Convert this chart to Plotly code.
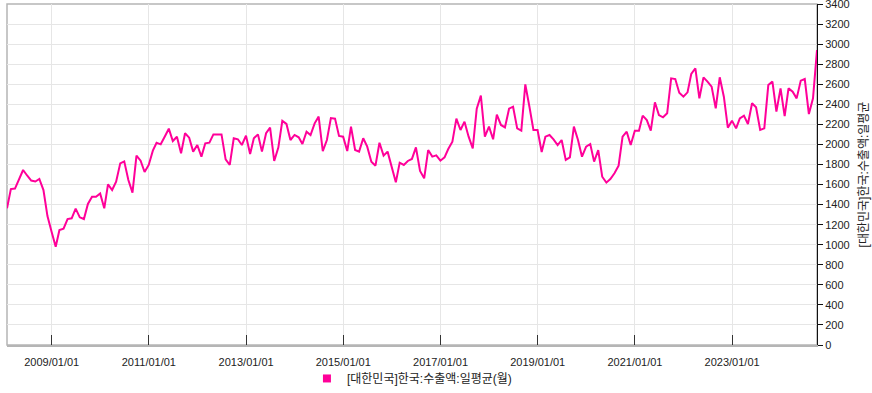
import pandas as pd
import plotly.graph_objects as go

# Monthly data 2008-01 .. 2024-09 (daily average exports)
start_month = "2008-01-31"
n_months = 201
values = [
    1363, 1555, 1560, 1660, 1745, 1690, 1640, 1630, 1655, 1545, 1285, 1130,  # 2008
    980, 1147, 1160, 1256, 1263, 1360, 1273, 1256, 1406, 1479, 1479, 1512,   # 2009
    1363, 1602, 1545, 1628, 1811, 1831, 1645, 1519, 1888, 1838, 1725, 1795,  # 2010
    1938, 2017, 2001, 2077, 2157, 2034, 2077, 1911, 2111, 2067, 1928, 1994,  # 2011
    1878, 2011, 2017, 2100, 2100, 2100, 1851, 1795, 2061, 2051, 1994, 2087,  # 2012
    1904, 2061, 2100, 1928, 2111, 2167, 1835, 1968, 2235, 2204, 2044, 2094,  # 2013
    2071, 2004, 2127, 2094, 2210, 2277, 1934, 2044, 2263, 2257, 2084, 2077,  # 2014
    1934, 2177, 1944, 1928, 2061, 1978, 1828, 1788, 2017, 1888, 1928, 1761,  # 2015
    1622, 1818, 1795, 1835, 1855, 1971, 1735, 1662, 1944, 1878, 1891, 1838,  # 2016
    1871, 1954, 2027, 2257, 2144, 2227, 2077, 1961, 2356, 2486, 2077, 2177,  # 2017
    2051, 2297, 2194, 2170, 2356, 2376, 2160, 2137, 2599, 2376, 2144, 2144,  # 2018
    1924, 2077, 2094, 2051, 1994, 2044, 1845, 1871, 2177, 2044, 1878, 1978,  # 2019
    2004, 1828, 1944, 1678, 1619, 1655, 1712, 1788, 2077, 2127, 1994, 2137,  # 2020
    2137, 2287, 2243, 2137, 2420, 2293, 2270, 2310, 2659, 2652, 2516, 2476,  # 2021
    2519, 2702, 2759, 2459, 2669, 2626, 2576, 2360, 2669, 2476, 2167, 2237,  # 2022
    2160, 2260, 2287, 2204, 2410, 2370, 2144, 2160, 2592, 2626, 2327, 2559,  # 2023
    2283, 2559, 2526, 2459, 2636, 2652, 2303, 2459, 2941,                    # 2024
]
dates = pd.date_range(start=start_month, periods=n_months, freq="ME")
y_ticks = list(range(0, 3401, 200))

series_name = "[대한민국]한국:수출액:일평균(월)"
axis_title = "[대한민국]한국:수출액:일평균"
line_color = "#FF0099"
font_family = "Arial, 'Liberation Sans', 'Noto Sans CJK KR', sans-serif"

fig = go.Figure()
fig.add_trace(go.Scatter(
    x=dates, y=values, mode="lines",
    line=dict(color=line_color, width=2),
    showlegend=False, name=series_name,
))
fig.add_trace(go.Scatter(
    x=[None], y=[None], mode="markers",
    marker=dict(symbol="square", size=8, color=line_color),
    name=series_name, showlegend=True,
))

fig.update_layout(
    width=872, height=393,
    margin=dict(l=7, r=55, t=4, b=48, autoexpand=False),
    paper_bgcolor="white", plot_bgcolor="white",
    font=dict(family=font_family, size=11, color="#222"),
    legend=dict(
        orientation="h", xref="container", yref="container",
        x=0.352, xanchor="left", y=0.037, yanchor="middle",
        font=dict(size=12, color="#222"),
        itemwidth=30, bgcolor="rgba(0,0,0,0)",
    ),
    shapes=[dict(type="rect", xref="paper", yref="paper", x0=0, x1=1, y0=0, y1=1,
                 line=dict(color="#b5b5b5", width=1.5), layer="below")],
)
fig.update_xaxes(
    type="date", range=[dates[0], dates[-1]], automargin=False,
    tick0="2009-01-01", dtick="M24", tickformat="%Y/%m/%d",
    ticks="inside", ticklen=10, tickcolor="#333", tickwidth=1,
    showgrid=True, gridcolor="#e6e6e6", gridwidth=1,
    showline=True, linecolor="#b5b5b5", linewidth=1.5,
    zeroline=False, ticklabelstandoff=6,
    tickfont=dict(size=11, color="#222"),
)
fig.update_yaxes(
    side="right", range=[0, 3400.01], tickmode="array", tickvals=y_ticks,
    automargin=False, ticklabeloverflow="allow",
    ticks="outside", ticklen=5, tickcolor="#111",
    showgrid=True, gridcolor="#e6e6e6", gridwidth=1,
    showline=True, linecolor="#111", linewidth=1,
    zeroline=False,
    tickfont=dict(size=11, color="#222"),
    title=dict(text=axis_title, font=dict(size=12, color="#222"), standoff=10),
)

fig.write_html(
    "out.html",
    config={"displayModeBar": False},
    post_script="document.body.style.margin='0';document.body.style.padding='0';",
)
